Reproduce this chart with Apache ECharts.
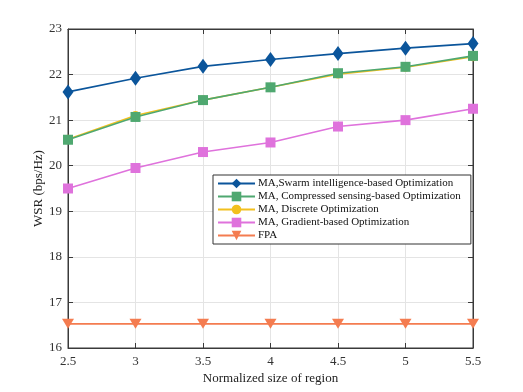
<!DOCTYPE html>
<html><head><meta charset="utf-8">
<script src="https://cdn.jsdelivr.net/npm/echarts@6/dist/echarts.min.js"></script>
<style>html,body{margin:0;padding:0;background:#fff}#c{width:523px;height:392px}</style>
</head><body><div id="c"></div>
<script>
const xValues = [2.5, 3, 3.5, 4, 4.5, 5, 5.5];
const swarm = [21.62, 21.92, 22.18, 22.33, 22.46, 22.58, 22.68];
const compressed = [20.57, 21.07, 21.44, 21.72, 22.03, 22.17, 22.41];
const discrete = [20.58, 21.10, 21.44, 21.72, 22.01, 22.16, 22.39];
const gradient = [19.50, 19.95, 20.30, 20.51, 20.86, 21.00, 21.25];
const fpa = [16.53, 16.53, 16.53, 16.53, 16.53, 16.53, 16.53];
const names = ['MA,Swarm intelligence-based Optimization','MA, Compressed sensing-based Optimization','MA, Discrete Optimization','MA, Gradient-based Optimization','FPA'];
const colors = ['#0b559b','#4fa870','#f2c01e','#df72dc','#f47c50'];
const font = 'Liberation Serif';
function pairs(arr){return xValues.map((x,i)=>[x,arr[i]]);}
const chart = echarts.init(document.getElementById('c'));
function mk(i, data, symbol, size, extra){
  return Object.assign({name:names[i],type:'line',data:pairs(data),symbol:symbol,symbolSize:size,
    lineStyle:{width:1.6,color:colors[i]},itemStyle:{color:colors[i]},animation:false,z:10-i}, extra||{});
}
const axisCommon = {axisLine:{show:true,lineStyle:{color:'#3a3a3a',width:1}},axisTick:{inside:true,length:5,lineStyle:{color:'#3a3a3a'}}};
chart.setOption({
  animation:false,
  grid:{left:68,right:50,top:29,bottom:44,show:true,borderColor:'#3a3a3a',borderWidth:1},
  legend:{orient:'vertical',left:213,top:175,width:255,padding:[3,10,3,4],itemGap:2,itemWidth:37,itemHeight:12,
    backgroundColor:'#fff',borderColor:'#333',borderWidth:1,
    textStyle:{fontFamily:font,fontSize:11,color:'#111',padding:[0,0,0,-2]},data:names},
  xAxis:[{type:'value',min:2.5,max:5.5,interval:0.5,...axisCommon,
    splitLine:{show:true,lineStyle:{color:'#e4e4e4'}},
    axisLabel:{fontFamily:font,fontSize:13,color:'#333',margin:7},
    name:'Normalized size of region',nameLocation:'middle',nameGap:24,nameMoveOverlap:false,
    nameTextStyle:{fontFamily:font,fontSize:13,color:'#222'}},
    {type:'value',position:'top',min:2.5,max:5.5,interval:0.5,...axisCommon,axisLabel:{show:false},splitLine:{show:false}}],
  yAxis:[{type:'value',min:16,max:23,interval:1,...axisCommon,
    splitLine:{show:true,lineStyle:{color:'#e4e4e4'}},
    axisLabel:{fontFamily:font,fontSize:13,color:'#333',margin:6},
    name:'WSR (bps/Hz)',nameLocation:'middle',nameGap:23,nameMoveOverlap:false,
    nameTextStyle:{fontFamily:font,fontSize:13,color:'#222'}},
    {type:'value',position:'right',min:16,max:23,interval:1,...axisCommon,axisLabel:{show:false},splitLine:{show:false}}],
  series:[
    mk(0, swarm, 'diamond', [11,15]),
    mk(2, discrete, 'circle', 9),
    mk(1, compressed, 'rect', 10),
    mk(3, gradient, 'rect', 10),
    mk(4, fpa, 'triangle', [12,10], {symbolRotate:180})
  ]
});
</script></body></html>
